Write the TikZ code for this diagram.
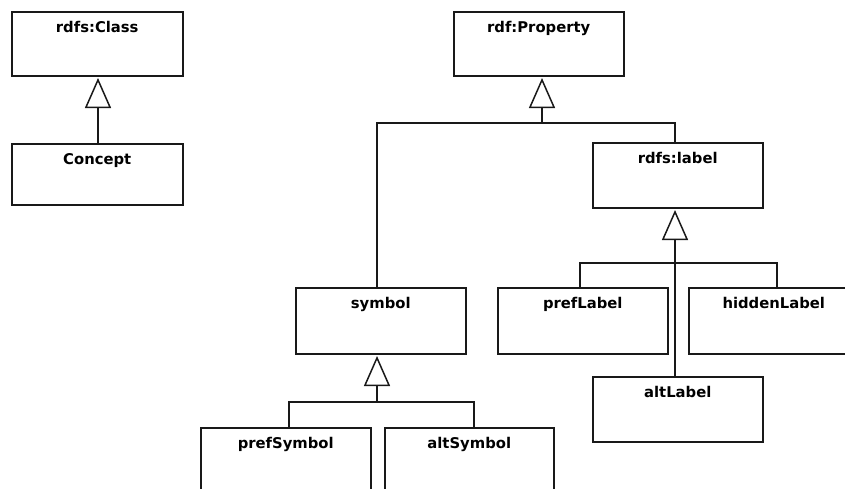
\documentclass[tikz,border=0pt]{standalone}
\usepackage{fontspec}
\setmainfont{DejaVu Sans}
\usetikzlibrary{arrows.meta,calc}

% one class box: name, left x, top y, width, height, title
\newcommand{\umlclass}[6]{%
  \node[umlbox,minimum width=#4pt,minimum height=#5pt] (#1) at (#2,#3) {};
  \node[umltext] (#1-t) at ([yshift=-21pt]#1.north) {#6};}

\begin{document}
\begin{tikzpicture}[x=1pt,y=-1pt,
  umlbox/.style={draw=black!90,line width=1.5pt,rectangle,anchor=north west,inner sep=0pt},
  umltext/.style={anchor=base,inner sep=0pt,font=\fontsize{14.8}{17}\selectfont\bfseries},
  link/.style={draw=black!90,line width=1.5pt},
  gen/.style={link,-{Triangle[open,length=30pt,width=26pt]},shorten >=1.5pt}]
\useasboundingbox (0,0) rectangle (845,488);
\clip (0,0) rectangle (845,488);

\umlclass{class}{11}{11}{171}{64}{rdfs:Class}
\umlclass{concept}{11}{143}{171}{61}{Concept}
\umlclass{property}{453}{11}{170}{64}{rdf:Property}
\umlclass{rdfslabel}{592}{142}{170}{65}{rdfs:label}
\umlclass{symbol}{295}{287}{170}{66}{symbol}
\umlclass{prefLabel}{497}{287}{170}{66}{prefLabel}
\umlclass{hiddenLabel}{688}{287}{170}{66}{hiddenLabel}
\umlclass{altLabel}{592}{376}{170}{65}{altLabel}
\umlclass{prefSymbol}{200}{427}{170}{70}{prefSymbol}
\umlclass{altSymbol}{384}{427}{169}{70}{altSymbol}

% junctions of the generalisation trees
\coordinate (cj) at (98,143);
\coordinate (pj) at (542,123);
\coordinate (lj) at (675,263);
\coordinate (sj) at (377,402);

% Concept -> rdfs:Class
\draw[gen] (cj) -- (cj |- class.south);

% symbol, rdfs:label -> rdf:Property
\draw[gen] (pj) -- (pj |- property.south);
\draw[link] (sj |- symbol.north) |- (pj) -| (lj |- rdfslabel.north);

% prefLabel, hiddenLabel, altLabel -> rdfs:label
\draw[gen] (lj |- altLabel.north) -- (lj |- rdfslabel.south);
\draw[link] ([xshift=-3pt]prefLabel.north) |- (lj) -| ([xshift=3pt]hiddenLabel.north);

% prefSymbol, altSymbol -> symbol
\draw[gen] (sj) -- (sj |- symbol.south);
\draw[link] ([xshift=3pt]prefSymbol.north) |- (sj) -| ([xshift=4.5pt]altSymbol.north);
\end{tikzpicture}
\end{document}
